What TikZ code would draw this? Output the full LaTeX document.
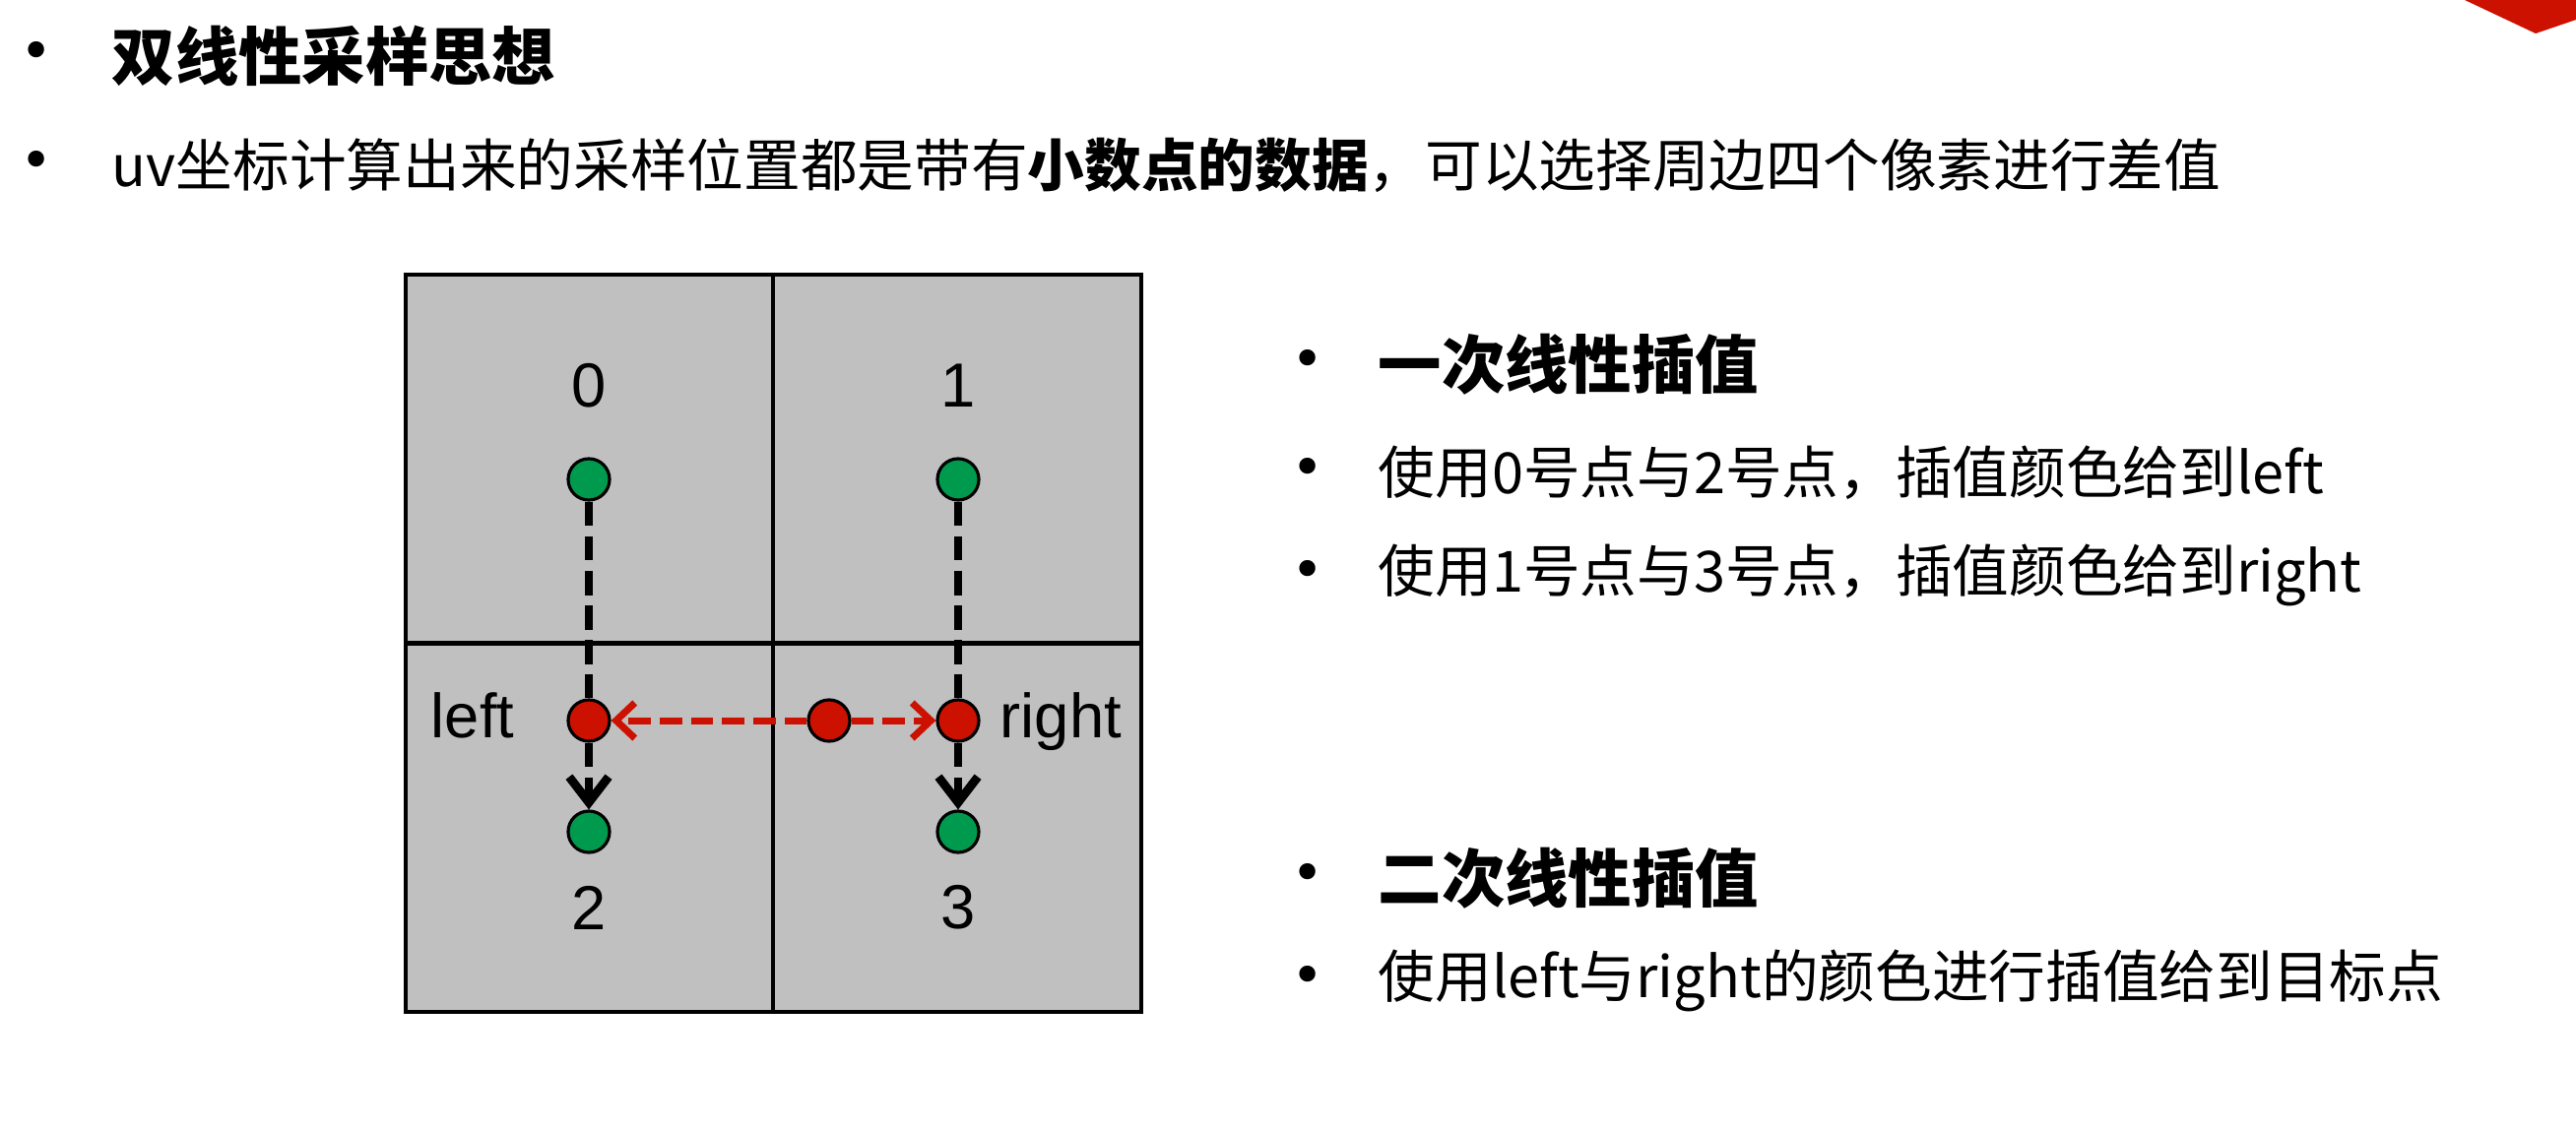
\documentclass[tikz,border=0pt]{standalone}
\usepackage{fontspec}
\setmainfont{Liberation Sans}
\newfontfamily\cjk{Noto Sans CJK SC}
\newfontfamily\symb{DejaVu Sans}
\usetikzlibrary{arrows.meta}
\definecolor{cellgray}{HTML}{C0C0C0}
\definecolor{ptgreen}{HTML}{009A4E}
\definecolor{ptred}{HTML}{CC1100}
\begin{document}
\begin{tikzpicture}[x=0.01cm, y=-0.01cm, line width=1pt]
\tikzset{
	cell/.style={draw, line width=1.1pt, fill=cellgray, minimum width=3.735cm, minimum height=3.745cm, inner sep=0pt},
	pix/.style={circle, draw, line width=0.9pt, fill=ptgreen, minimum size=0.42cm, inner sep=0pt},
	mix/.style={pix, fill=ptred},
	num/.style={inner sep=0pt, font=\fontsize{18}{20}\selectfont},
	bul/.style={inner sep=0pt, font=\symb\fontsize{16}{18}\selectfont},
	head/.style={anchor=west, inner sep=0pt, font=\cjk\bfseries\fontsize{18.3}{22}\selectfont},
	item/.style={anchor=west, inner sep=0pt, font=\cjk\fontsize{16.4}{20}\selectfont},
	vline/.style={dash pattern=on 7pt off 3pt, line width=2.5pt},
	hline/.style={draw=ptred, dash pattern=on 6.5pt off 2.5pt, line width=2pt, -{Straight Barb[length=1.9mm, width=3.6mm]}}
}
\path[use as bounding box, fill=white] (0,0) rectangle (2616,1148);

% slide corner
\fill[ptred] (2503,0) -- (2575,34) -- (2616,20) -- (2616,0) -- cycle;

% top lines
\node[bul] (b1) at (37,57) {•};
\node[head] (t1) at (112,57) {双线性采样思想};
\node[bul] (b2) at (37,168) {•};
\node[item] (t2) at (112,168)
{uv坐标计算出来的采样位置都是带有\textbf{小数点的数据}，可以选择周边四个像素进行差值};

% pixel grid
\node[cell] (c0) at (599,466) {};
\node[cell] (c1) at (972,466) {};
\node[cell] (c2) at (599,841) {};
\node[cell] (c3) at (972,841) {};

\node[pix] (p0) at (598,487) {};
\node[pix] (p1) at (973,487) {};
\node[pix] (p2) at (598,845) {};
\node[pix] (p3) at (973,845) {};
\node[mix] (lp) at (598,732) {};
\node[mix] (rp) at (973,732) {};
\node[mix] (tp) at (842,732) {};

\node[num] (n0) at (598,392) {0};
\node[num] (n1) at (973,392) {1};
\node[num] (n2) at (598,922) {2};
\node[num] (n3) at (973,922) {3};
\node[num, anchor=base east] (nl) at (524,749) {left};
\node[num, anchor=base west] (nr) at (1014,749) {right};

% first pass (vertical)
\draw[vline] (p0) -- (lp);
\draw[vline, -{Straight Barb[length=2.6mm, width=4mm]}] (lp) -- (p2);
\draw[vline] (p1) -- (rp);
\draw[vline, -{Straight Barb[length=2.6mm, width=4mm]}] (rp) -- (p3);

% second pass (horizontal)
\draw[hline] (tp) -- (lp);
\draw[hline] (tp) -- (rp);

% right column
\node[bul] (b3) at (1328,370) {•};
\node[head] (h1) at (1398,370) {一次线性插值};
\node[bul] (b4) at (1328,480) {•};
\node[item] (i1) at (1398,480) {使用0号点与2号点，插值颜色给到left};
\node[bul] (b5) at (1328,584) {•};
\node[item] (i2) at (1398,584) {使用1号点与3号点，插值颜色给到right};
\node[bul] (b6) at (1328,892) {•};
\node[head] (h2) at (1398,892) {二次线性插值};
\node[bul] (b7) at (1328,996) {•};
\node[item] (i3) at (1398,996) {使用left与right的颜色进行插值给到目标点};

\end{tikzpicture}
\end{document}
